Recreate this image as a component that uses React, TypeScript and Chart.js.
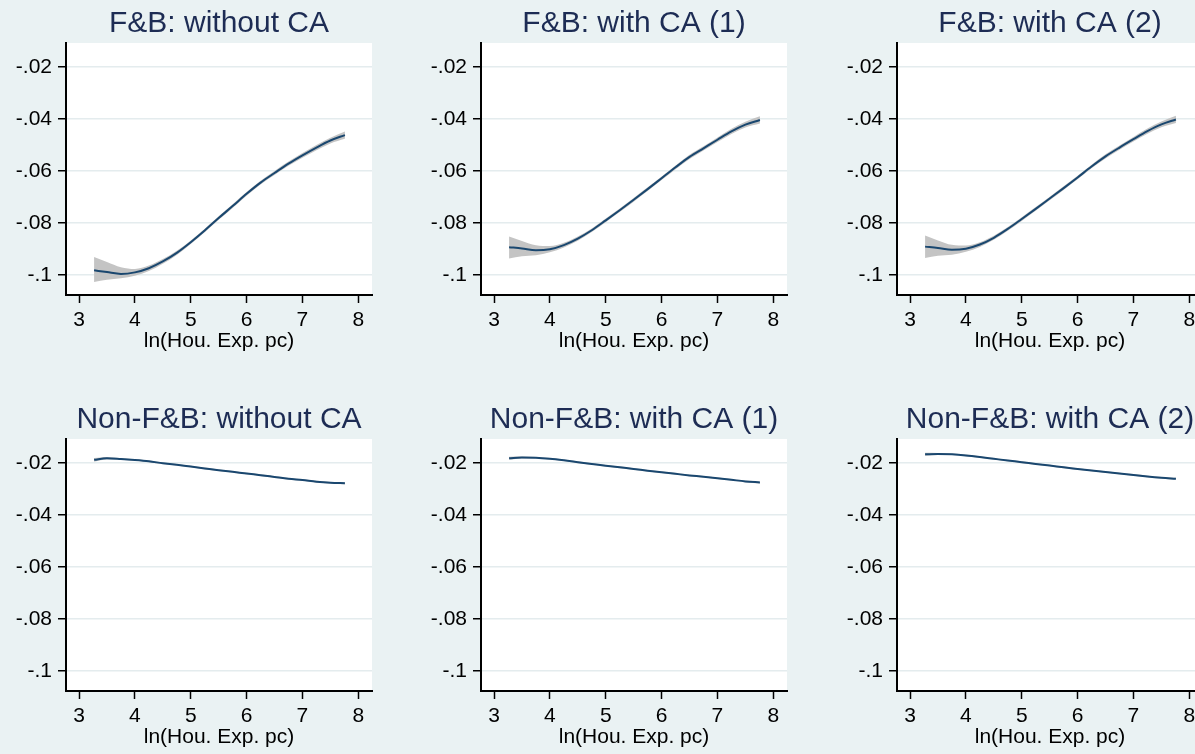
import React, { useEffect, useRef } from "react";
import { Chart, registerables } from "chart.js";

Chart.register(...registerables);

// ---------- data ----------
const X_VALUES = [3.27, 3.5, 3.75, 4.0, 4.25, 4.5, 4.75, 5.0, 5.25, 5.5, 5.75, 6.0, 6.25, 6.5, 6.75, 7.0, 7.25, 7.5, 7.76];

const PANEL_TITLES = [
  "F&B: without CA",
  "F&B: with CA (1)",
  "F&B: with CA (2)",
  "Non-F&B: without CA",
  "Non-F&B: with CA (1)",
  "Non-F&B: with CA (2)",
];
const X_AXIS_TITLE = "ln(Hou. Exp. pc)";
const X_TICKS = [3, 4, 5, 6, 7, 8];
const X_TICK_LABELS = ["3", "4", "5", "6", "7", "8"];
const Y_TICKS = [-0.1, -0.08, -0.06, -0.04, -0.02];
const Y_TICK_LABELS = ["-.1", "-.08", "-.06", "-.04", "-.02"];

const FB_NOCA_FIT = [-0.0981, -0.0988, -0.0995, -0.0989, -0.0973, -0.0947, -0.0914, -0.0873, -0.0828, -0.078, -0.0734, -0.0687, -0.0644, -0.0607, -0.0571, -0.0539, -0.0509, -0.0482, -0.0461];
const FB_NOCA_HI = [-0.093, -0.0949, -0.0969, -0.0976, -0.0963, -0.0938, -0.0906, -0.0866, -0.0821, -0.0773, -0.0727, -0.068, -0.0637, -0.0599, -0.0563, -0.053, -0.0499, -0.0471, -0.0447];
const FB_NOCA_LO = [-0.1026, -0.1017, -0.1012, -0.1002, -0.0984, -0.0956, -0.0922, -0.088, -0.0835, -0.0787, -0.0741, -0.0694, -0.0651, -0.0615, -0.0579, -0.0548, -0.0519, -0.0493, -0.0475];

const FB_CA1_FIT = [-0.0892, -0.0897, -0.0904, -0.09, -0.0884, -0.0859, -0.0827, -0.0789, -0.075, -0.071, -0.0669, -0.0627, -0.0585, -0.0545, -0.0512, -0.0479, -0.0447, -0.0421, -0.0403];
const FB_CA1_HI = [-0.0851, -0.0868, -0.0885, -0.0888, -0.0875, -0.0851, -0.082, -0.0782, -0.0743, -0.0703, -0.0662, -0.062, -0.0578, -0.0537, -0.0504, -0.047, -0.0437, -0.041, -0.0389];
const FB_CA1_LO = [-0.0936, -0.0927, -0.0923, -0.0912, -0.0893, -0.0867, -0.0834, -0.0796, -0.0757, -0.0717, -0.0676, -0.0634, -0.0592, -0.0553, -0.052, -0.0488, -0.0457, -0.0432, -0.0417];

const FB_CA2_FIT = [-0.089, -0.0895, -0.0902, -0.0898, -0.0882, -0.0856, -0.0822, -0.0784, -0.0745, -0.0705, -0.0665, -0.0624, -0.0582, -0.0543, -0.0509, -0.0477, -0.0446, -0.042, -0.0401];
const FB_CA2_HI = [-0.0847, -0.0866, -0.0883, -0.0886, -0.0873, -0.0848, -0.0815, -0.0777, -0.0738, -0.0698, -0.0658, -0.0617, -0.0575, -0.0535, -0.0501, -0.0468, -0.0436, -0.0409, -0.0387];
const FB_CA2_LO = [-0.0934, -0.0925, -0.0921, -0.091, -0.0891, -0.0864, -0.0829, -0.0791, -0.0752, -0.0712, -0.0672, -0.0631, -0.0589, -0.0551, -0.0517, -0.0486, -0.0456, -0.0431, -0.0415];

const NFB_NOCA_FIT = [-0.0187, -0.0181, -0.0184, -0.0188, -0.0193, -0.02, -0.0206, -0.0213, -0.022, -0.0227, -0.0233, -0.024, -0.0246, -0.0253, -0.026, -0.0265, -0.0271, -0.0275, -0.0277];
const NFB_NOCA_HI = [-0.018, -0.0176, -0.0181, -0.0185, -0.019, -0.0197, -0.0203, -0.021, -0.0217, -0.0224, -0.023, -0.0237, -0.0243, -0.025, -0.0257, -0.0262, -0.0268, -0.0272, -0.0273];
const NFB_NOCA_LO = [-0.0194, -0.0186, -0.0187, -0.0191, -0.0196, -0.0203, -0.0209, -0.0216, -0.0223, -0.023, -0.0236, -0.0243, -0.0249, -0.0256, -0.0263, -0.0268, -0.0274, -0.0278, -0.0281];

const NFB_CA1_FIT = [-0.0181, -0.0178, -0.0179, -0.0183, -0.0189, -0.0196, -0.0203, -0.021, -0.0216, -0.0222, -0.0229, -0.0235, -0.0241, -0.0247, -0.0252, -0.0258, -0.0264, -0.027, -0.0274];
const NFB_CA1_HI = [-0.0175, -0.0174, -0.0176, -0.018, -0.0186, -0.0193, -0.02, -0.0207, -0.0213, -0.0219, -0.0226, -0.0232, -0.0238, -0.0244, -0.0249, -0.0255, -0.0261, -0.0267, -0.027];
const NFB_CA1_LO = [-0.0187, -0.0182, -0.0182, -0.0186, -0.0192, -0.0199, -0.0206, -0.0213, -0.0219, -0.0225, -0.0232, -0.0238, -0.0244, -0.025, -0.0255, -0.0261, -0.0267, -0.0273, -0.0278];

const NFB_CA2_FIT = [-0.0166, -0.0165, -0.0166, -0.017, -0.0176, -0.0183, -0.019, -0.0196, -0.0203, -0.0209, -0.0216, -0.0222, -0.0228, -0.0234, -0.024, -0.0245, -0.0251, -0.0256, -0.026];
const NFB_CA2_HI = [-0.016, -0.0161, -0.0163, -0.0167, -0.0173, -0.018, -0.0187, -0.0193, -0.02, -0.0206, -0.0213, -0.0219, -0.0225, -0.0231, -0.0237, -0.0242, -0.0248, -0.0253, -0.0256];
const NFB_CA2_LO = [-0.0172, -0.0169, -0.0169, -0.0173, -0.0179, -0.0186, -0.0193, -0.0199, -0.0206, -0.0212, -0.0219, -0.0225, -0.0231, -0.0237, -0.0243, -0.0248, -0.0254, -0.0259, -0.0264];

const PANEL_SERIES = [
  { fit: FB_NOCA_FIT, hi: FB_NOCA_HI, lo: FB_NOCA_LO },
  { fit: FB_CA1_FIT, hi: FB_CA1_HI, lo: FB_CA1_LO },
  { fit: FB_CA2_FIT, hi: FB_CA2_HI, lo: FB_CA2_LO },
  { fit: NFB_NOCA_FIT, hi: NFB_NOCA_HI, lo: NFB_NOCA_LO },
  { fit: NFB_CA1_FIT, hi: NFB_CA1_HI, lo: NFB_CA1_LO },
  { fit: NFB_CA2_FIT, hi: NFB_CA2_HI, lo: NFB_CA2_LO },
];

const X_MIN = 2.767;
const X_MAX = 8.245;
const Y_MIN = -0.1076;
const Y_MAX = -0.0107;

// ---------- styles ----------
const BG = "#EAF2F3";
const GRID = "#E4ECEE";
const LINE = "#1A476F";
const BAND = "#C4C4C4";
const TITLE_COLOR = "#1D2C54";
const FONT_FAMILY = "'Liberation Sans', Arial, Helvetica, sans-serif";

const CANVAS_W = 415;
const CANVAS_H = 354;
const COL_LEFT = [0, 415, 831];
const ROW_TOP = [0, 396];

const plotBg = {
  id: "plotBg",
  beforeDraw(chart: any) {
    const { ctx, chartArea } = chart;
    ctx.save();
    ctx.fillStyle = "#FFFFFF";
    ctx.fillRect(chartArea.left, chartArea.top, chartArea.right - chartArea.left, chartArea.bottom - chartArea.top);
    ctx.restore();
  },
};

const panelTitle = {
  id: "panelTitle",
  afterDraw(chart: any, _args: any, opts: any) {
    const { ctx, chartArea } = chart;
    ctx.save();
    ctx.font = `30px ${FONT_FAMILY}`;
    ctx.fillStyle = TITLE_COLOR;
    ctx.textAlign = "center";
    ctx.textBaseline = "alphabetic";
    ctx.fillText(opts.text, (chartArea.left + chartArea.right) / 2, 32);
    ctx.restore();
  },
};

function Panel({ index }: { index: number }) {
  const ref = useRef<HTMLCanvasElement | null>(null);
  useEffect(() => {
    if (!ref.current) return;
    const s = PANEL_SERIES[index];
    const toPts = (arr: number[]) => X_VALUES.map((x, i) => ({ x, y: arr[i] }));
    const tickFont = { family: FONT_FAMILY, size: 21 };
    const chart = new Chart(ref.current, {
      type: "line",
      data: {
        datasets: [
          {
            data: toPts(s.fit),
            borderColor: LINE,
            borderWidth: 2,
            pointRadius: 0,
            fill: false,
            cubicInterpolationMode: "monotone",
          },
          {
            data: toPts(s.hi),
            borderColor: "rgba(0,0,0,0)",
            borderWidth: 0,
            pointRadius: 0,
            fill: false,
            cubicInterpolationMode: "monotone",
          },
          {
            data: toPts(s.lo),
            borderColor: "rgba(0,0,0,0)",
            borderWidth: 0,
            pointRadius: 0,
            backgroundColor: BAND,
            fill: "-1",
            cubicInterpolationMode: "monotone",
          },
        ],
      },
      options: {
        responsive: false,
        animation: false,
        devicePixelRatio: 1,
        events: [],
        layout: { padding: { top: 43, right: 43, left: 0, bottom: 0 } },
        plugins: {
          legend: { display: false },
          tooltip: { enabled: false },
          title: { display: false },
          panelTitle: { text: PANEL_TITLES[index] },
        } as any,
        scales: {
          x: {
            type: "linear",
            min: X_MIN,
            max: X_MAX,
            afterBuildTicks: (sc: any) => {
              sc.ticks = X_TICKS.map((v) => ({ value: v }));
            },
            afterFit: (sc: any) => {
              sc.height = 59;
            },
            ticks: {
              callback: (_v: any, i: number) => X_TICK_LABELS[i],
              font: tickFont,
              color: "#000",
              padding: 5,
              maxRotation: 0,
              autoSkip: false,
            },
            grid: {
              drawOnChartArea: false,
              drawTicks: true,
              tickLength: 8,
              tickColor: "#000",
              tickWidth: 1.5,
            },
            border: { display: true, color: "#000", width: 2 },
            title: { display: true, text: X_AXIS_TITLE, font: tickFont, color: "#000", padding: 0 },
          },
          y: {
            type: "linear",
            min: Y_MIN,
            max: Y_MAX,
            afterBuildTicks: (sc: any) => {
              sc.ticks = Y_TICKS.map((v) => ({ value: v }));
            },
            afterFit: (sc: any) => {
              sc.width = 66;
            },
            ticks: {
              callback: (_v: any, i: number) => Y_TICK_LABELS[i],
              font: tickFont,
              color: "#000",
              padding: 6,
              autoSkip: false,
            },
            grid: {
              drawOnChartArea: true,
              color: GRID,
              lineWidth: 1.5,
              drawTicks: true,
              tickLength: 8,
              tickColor: "#000",
              tickWidth: 1.5,
            },
            border: { display: true, color: "#000", width: 2 },
          },
        },
      } as any,
      plugins: [plotBg, panelTitle],
    });
    return () => chart.destroy();
  }, [index]);

  const col = index % 3;
  const row = Math.floor(index / 3);
  return (
    <canvas
      ref={ref}
      width={CANVAS_W}
      height={CANVAS_H}
      style={{
        position: "absolute",
        left: COL_LEFT[col],
        top: ROW_TOP[row],
        width: CANVAS_W,
        height: CANVAS_H,
      }}
    />
  );
}

export default function App() {
  return (
    <div
      style={{
        position: "absolute",
        left: 0,
        top: 0,
        width: 1195,
        height: 754,
        overflow: "hidden",
        background: BG,
      }}
    >
      {PANEL_TITLES.map((_, i) => (
        <Panel key={i} index={i} />
      ))}
    </div>
  );
}
